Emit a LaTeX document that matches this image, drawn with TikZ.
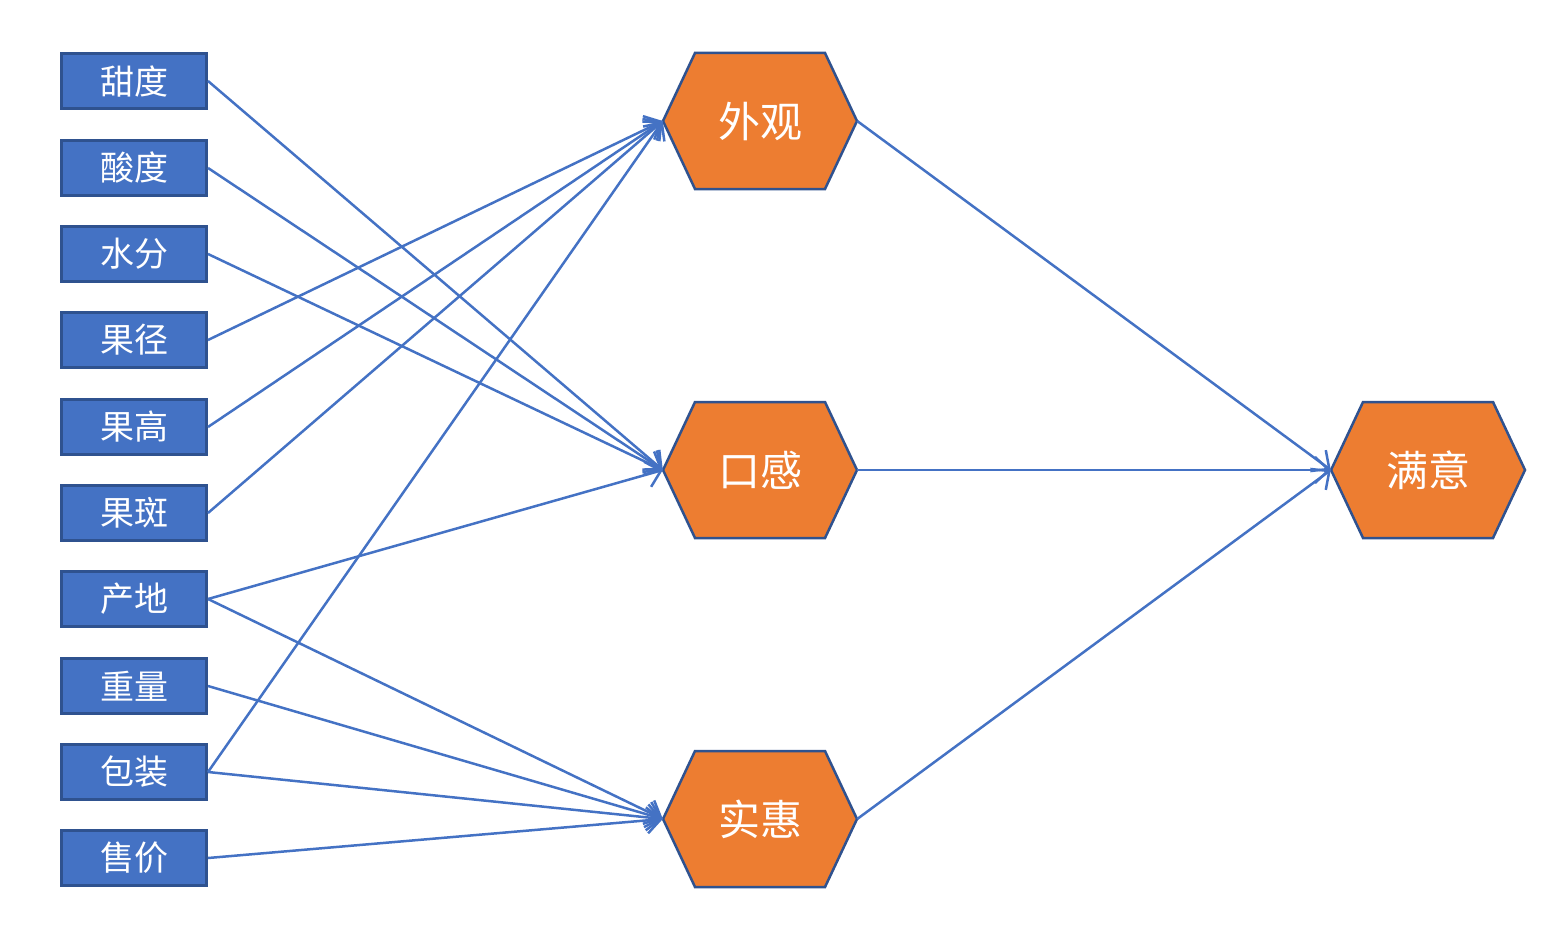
\documentclass[tikz,border=0pt]{standalone}
\usepackage{fontspec}
\setmainfont{Noto Sans CJK SC}
\usetikzlibrary{arrows.meta}
\definecolor{lineblue}{HTML}{4472C4}
\definecolor{edgeblue}{HTML}{2F528F}
\definecolor{hexorange}{HTML}{ED7D31}
\tikzset{
  itembox/.style={draw=edgeblue, line width=3pt, fill=lineblue, text=white,
    minimum width=145pt, minimum height=55pt, inner sep=0pt, font=\fontsize{34}{40}\selectfont},
  hexlabel/.style={draw=none, text=white, minimum width=194pt, minimum height=137pt,
    inner sep=0pt, font=\fontsize{42}{48}\selectfont},
  hexshape/.style={draw=edgeblue, line width=2.5pt, fill=hexorange, line join=miter},
  conn/.style={draw=lineblue, line width=2.5pt, -{Straight Barb[length=14pt,width=26pt,line width=2.5pt]}},
}
\begin{document}
\begin{tikzpicture}[x=1pt,y=-1pt]
\useasboundingbox (0,0) rectangle (1557,934);
% items
\node[itembox] (a1) at (134,81) {甜度};
\node[itembox] (a2) at (134,168) {酸度};
\node[itembox] (a3) at (134,254) {水分};
\node[itembox] (a4) at (134,340) {果径};
\node[itembox] (a5) at (134,427) {果高};
\node[itembox] (a6) at (134,513) {果斑};
\node[itembox] (a7) at (134,599) {产地};
\node[itembox] (a8) at (134,686) {重量};
\node[itembox] (a9) at (134,772) {包装};
\node[itembox] (a10) at (134,858) {售价};
% hexagons
\foreach \n/\x/\y/\t in {wg/760/121/外观, kg/760/470/口感, sh/760/819/实惠, my/1428/470/满意}{
  \path[hexshape] (\x-97,\y) -- (\x-65,\y-68) -- (\x+65,\y-68) -- (\x+97,\y)
     -- (\x+65,\y+68) -- (\x-65,\y+68) -- cycle;
  \node[hexlabel] (\n) at (\x,\y) {\t};
}
% connectors
\draw[conn] (a1.east) -- (kg.west);
\draw[conn] (a2.east) -- (kg.west);
\draw[conn] (a3.east) -- (kg.west);
\draw[conn] (a4.east) -- (wg.west);
\draw[conn] (a5.east) -- (wg.west);
\draw[conn] (a6.east) -- (wg.west);
\draw[conn] (a7.east) -- (kg.west);
\draw[conn] (a7.east) -- (sh.west);
\draw[conn] (a8.east) -- (sh.west);
\draw[conn] (a9.east) -- (wg.west);
\draw[conn] (a9.east) -- (sh.west);
\draw[conn] (a10.east) -- (sh.west);
\draw[conn] (wg.east) -- (my.west);
\draw[conn] (kg.east) -- (my.west);
\draw[conn] (sh.east) -- (my.west);
\end{tikzpicture}
\end{document}
